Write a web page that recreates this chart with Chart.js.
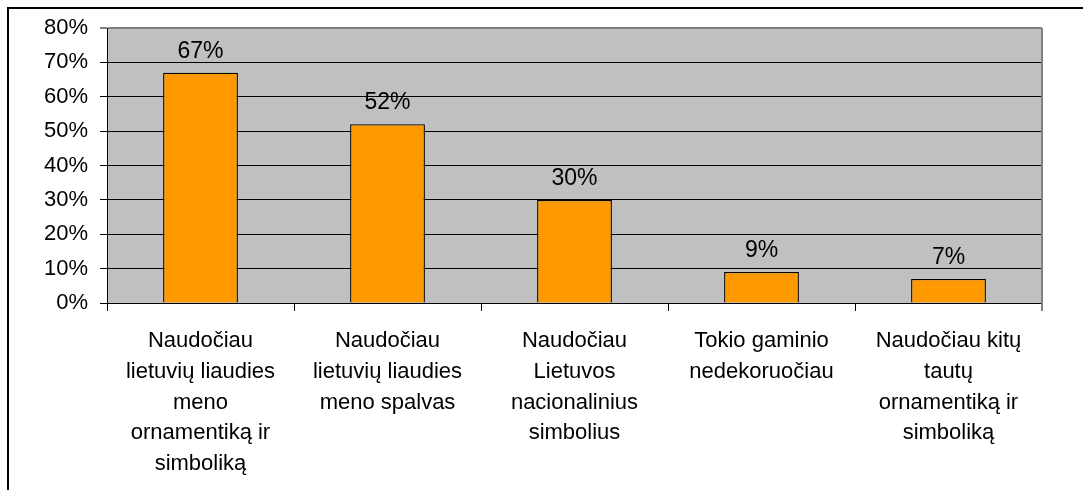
<!DOCTYPE html>
<html>
<head>
<meta charset="utf-8">
<script src="https://cdn.jsdelivr.net/npm/chart.js@4/dist/chart.umd.min.js"></script>
<style>
  html, body { margin: 0; padding: 0; background: #fff; }
  #wrap { position: relative; width: 1083px; height: 490px; overflow: hidden; }
  #frame {
    position: absolute; left: 7px; top: 7px; right: -4px; bottom: -4px;
    border-top: 2px solid #000; border-left: 2px solid #000;
  }
  #chart { position: absolute; left: 0; top: 0; }
</style>
</head>
<body>
<div id="wrap">
  <div id="frame"></div>
  <canvas id="chart" width="1083" height="490"></canvas>
</div>
<script>
// category labels, already wrapped like the original
const categories = [
  ["Naudočiau", "lietuvių liaudies", "meno", "ornamentiką ir", "simboliką"],
  ["Naudočiau", "lietuvių liaudies", "meno spalvas"],
  ["Naudočiau", "Lietuvos", "nacionalinius", "simbolius"],
  ["Tokio gaminio", "nedekoruočiau"],
  ["Naudočiau kitų", "tautų", "ornamentiką ir", "simboliką"]
];
const shares = [67, 52, 30, 9, 7];
const yTicks = [0, 10, 20, 30, 40, 50, 60, 70, 80];

const FONT = "'Liberation Sans', Arial, sans-serif";

/* gray plot background + gray right edge */
const plotBg = {
  id: "plotBg",
  beforeDraw(chart) {
    const { ctx, chartArea: a } = chart;
    ctx.save();
    ctx.fillStyle = "#C0C0C0";
    ctx.fillRect(a.left, a.top, a.right - a.left, a.bottom - a.top);
    ctx.restore();
  },
  afterDatasetsDraw(chart) {
    const { ctx, chartArea: a } = chart;
    ctx.save();
    ctx.strokeStyle = "#808080";
    ctx.lineWidth = 2;
    ctx.beginPath();
    ctx.moveTo(a.right, a.top);
    ctx.lineTo(a.right, a.bottom + 8);
    ctx.stroke();
    ctx.restore();
  }
};

/* % labels above bars */
const valueLabels = {
  id: "valueLabels",
  afterDatasetsDraw(chart) {
    const { ctx } = chart;
    const meta = chart.getDatasetMeta(0);
    ctx.save();
    ctx.font = "23px " + FONT;
    ctx.fillStyle = "#000";
    ctx.textAlign = "center";
    ctx.textBaseline = "alphabetic";
    meta.data.forEach((bar, i) => {
      ctx.fillText(shares[i] + "%", bar.x, bar.y - 15);
    });
    ctx.restore();
  }
};

new Chart(document.getElementById("chart"), {
  type: "bar",
  data: {
    labels: categories,
    datasets: [{
      data: shares,
      backgroundColor: "#FF9900",
      borderColor: "#000",
      borderWidth: 1.3,
      barPercentage: 0.4,
      categoryPercentage: 1
    }]
  },
  options: {
    responsive: false,
    animation: false,
    devicePixelRatio: 1,
    layout: { padding: { top: 28, right: 41, left: 0, bottom: 0 } },
    plugins: {
      legend: { display: false },
      tooltip: { enabled: false }
    },
    scales: {
      x: {
        afterFit: (s) => { s.height = 187; },
        grid: {
          offset: true,
          drawOnChartArea: false,
          drawTicks: true,
          tickLength: 8,
          color: "#000"
        },
        border: { color: "#000", width: 1 },
        ticks: {
          color: "#000",
          font: { family: FONT, size: 22, lineHeight: 1.39 },
          padding: 15,
          maxRotation: 0,
          autoSkip: false
        }
      },
      y: {
        min: 0,
        max: 80,
        afterFit: (s) => { s.width = 107; },
        afterBuildTicks: (s) => { s.ticks = yTicks.map(v => ({ value: v })); },
        grid: {
          color: (c) => (c.tick && c.tick.value === 80 ? "#808080" : "#000"),
          lineWidth: (c) => (c.tick && c.tick.value === 80 ? 2 : 1),
          tickLength: 7
        },
        border: { color: "#000", width: 1 },
        ticks: {
          color: "#000",
          font: { family: FONT, size: 22 },
          padding: 12,
          callback: (v) => v + "%"
        }
      }
    }
  },
  plugins: [plotBg, valueLabels]
});
</script>
</body>
</html>
